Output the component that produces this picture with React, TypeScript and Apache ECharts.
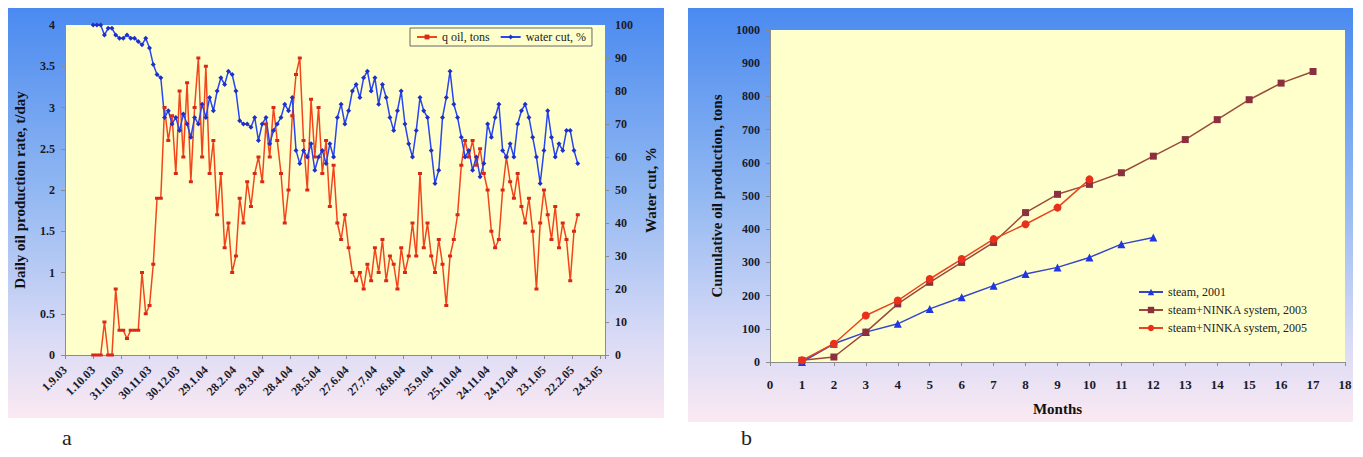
import React, { useEffect, useRef } from 'react';
import * as echarts from 'echarts';

const dateLabels = ['1.9.03', '1.10.03', '31.10.03', '30.11.03', '30.12.03', '29.1.04', '28.2.04', '29.3.04', '28.4.04', '28.5.04', '27.6.04', '27.7.04', '26.8.04', '25.9.04', '25.10.04', '24.11.04', '24.12.04', '23.1.05', '22.2.05', '24.3.05'];
const firstDay = 30;
const dayStep = 4;

const oilRate = [
  0, 0, 0, 0.4, 0, 0, 0.8, 0.3, 0.3, 0.2,
  0.3, 0.3, 0.3, 1.0, 0.5, 0.6, 1.1, 1.9, 1.9, 3.0,
  2.6, 2.9, 2.2, 3.2, 2.4, 3.3, 2.1, 3.0, 3.6, 2.4,
  3.5, 2.2, 2.6, 1.7, 2.2, 1.3, 1.6, 1.0, 1.2, 1.9,
  1.6, 2.1, 1.8, 2.2, 2.4, 2.1, 2.8, 2.4, 3.0, 2.6,
  2.2, 1.6, 2.0, 2.9, 3.4, 3.6, 2.6, 2.0, 3.1, 2.4,
  3.0, 2.2, 2.6, 1.8, 2.3, 1.6, 1.4, 1.7, 1.3, 1.0,
  0.9, 1.0, 0.8, 1.1, 0.9, 1.3, 1.0, 1.4, 0.9, 1.2,
  1.1, 0.8, 1.3, 1.0, 1.2, 1.6, 1.2, 2.2, 1.3, 1.6,
  1.2, 1.0, 1.4, 1.1, 0.6, 1.2, 1.4, 1.7, 2.3, 2.6,
  2.4, 2.6, 2.3, 2.5, 2.2, 2.0, 1.5, 1.3, 1.4, 2.0,
  2.4, 2.1, 1.9, 2.2, 1.8, 1.6, 1.9, 1.5, 0.8, 1.6,
  2.0, 1.7, 1.4, 1.8, 1.3, 1.6, 1.4, 0.9, 1.5, 1.7,
];

const waterCut = [
  100, 100, 100, 97, 99, 99, 97, 96, 96, 97,
  96, 96, 95, 94, 96, 93, 88, 85, 84, 72,
  74, 70, 72, 68, 73, 70, 66, 72, 70, 76,
  72, 78, 74, 80, 84, 82, 86, 85, 80, 71,
  70, 70, 69, 72, 65, 70, 72, 64, 68, 70,
  72, 76, 74, 78, 62, 58, 62, 60, 64, 56,
  60, 62, 58, 64, 60, 72, 76, 70, 74, 80,
  82, 78, 84, 86, 80, 84, 76, 82, 78, 72,
  68, 74, 80, 70, 64, 60, 68, 78, 74, 72,
  62, 52, 56, 72, 78, 86, 76, 72, 66, 60,
  62, 56, 60, 54, 58, 70, 66, 72, 76, 62,
  60, 64, 60, 70, 74, 76, 72, 66, 60, 52,
  62, 74, 66, 60, 64, 62, 68, 68, 62, 58,
];

const months = [1, 2, 3, 4, 5, 6, 7, 8, 9, 10, 11, 12, 13, 14, 15, 16, 17];
const steam2001 = [0, 55, 90, 115, 160, 195, 230, 265, 285, 315, 355, 375];
const ninka2003 = [5, 15, 90, 175, 240, 300, 360, 450, 505, 535, 570, 620, 670, 730, 790, 840, 875];
const ninka2005 = [5, 55, 140, 185, 250, 310, 370, 415, 465, 550];

const SERIF = "'Liberation Serif', 'Times New Roman', serif";

const panelFill = () =>
  new echarts.graphic.LinearGradient(0, 0, 0, 1, [
    { offset: 0, color: '#4A8AF0' },
    { offset: 0.45, color: '#92B8F2' },
    { offset: 0.8, color: '#D8DAF6' },
    { offset: 1, color: '#FBE9F2' },
  ]);

export default function App() {
  const ref = useRef<HTMLDivElement>(null);
  useEffect(() => {
    if (!ref.current) return;
    const chart = echarts.init(ref.current, undefined, { renderer: 'svg' });
    const dayOf = (i: number) => firstDay + i * dayStep;
    const tickLabel = { fontFamily: SERIF, fontWeight: 'bold' as const, color: '#1a1a2a' };
    const axisLine = { show: true, lineStyle: { color: '#8c8c8c', width: 1 } };
    const axisTick = { show: true, length: 4, lineStyle: { color: '#8c8c8c' } };
    const nameStyle = { fontFamily: SERIF, fontWeight: 'bold' as const, fontSize: 15, color: '#111' };
    const plain = (v: number) => String(v);

    chart.setOption({
      animation: false,
      backgroundColor: '#ffffff',
      graphic: [
        { type: 'rect', z: -10, shape: { x: 8, y: 8, width: 656, height: 410 }, style: { fill: panelFill() }, silent: true },
        { type: 'rect', z: -10, shape: { x: 688, y: 8, width: 665, height: 414 }, style: { fill: panelFill() }, silent: true },
        { type: 'text', x: 62, y: 426, style: { text: 'a', font: `22px ${SERIF}`, fill: '#222' } },
        { type: 'text', x: 741, y: 426, style: { text: 'b', font: `22px ${SERIF}`, fill: '#222' } },
      ],
      grid: [
        { left: 65, top: 25, width: 540, height: 330, show: true, backgroundColor: '#FFFFCC', borderWidth: 0 },
        { left: 770, top: 30, width: 575, height: 332, show: true, backgroundColor: '#FFFFCC', borderWidth: 0 },
      ],
      legend: [
        {
          data: ['q oil, tons', 'water cut, %'],
          left: 410, top: 28, orient: 'horizontal',
          itemWidth: 20, itemHeight: 6, itemGap: 10,
          padding: [3, 6], borderColor: '#666', borderWidth: 1, backgroundColor: '#FFFFCC',
          textStyle: { fontFamily: SERIF, fontSize: 12, color: '#222' },
        },
        {
          data: ['steam, 2001', 'steam+NINKA system, 2003', 'steam+NINKA system, 2005'],
          left: 1133, top: 281, orient: 'vertical',
          itemWidth: 24, itemHeight: 8, itemGap: 6,
          textStyle: { fontFamily: SERIF, fontSize: 12, color: '#222' },
        },
      ],
      xAxis: [
        {
          type: 'value', gridIndex: 0, min: 0, max: 575, interval: 30,
          axisLine, axisTick, splitLine: { show: false },
          axisLabel: {
            ...tickLabel, fontSize: 12, rotate: 45, margin: 13,
            formatter: (v: number) => (v % 30 === 0 && dateLabels[v / 30] ? dateLabels[v / 30] : ''),
          },
        },
        {
          type: 'value', gridIndex: 1, min: 0, max: 18, interval: 1,
          axisLine, axisTick, splitLine: { show: false },
          axisLabel: { ...tickLabel, fontSize: 13, margin: 16, formatter: plain },
          name: 'Months', nameLocation: 'middle', nameGap: 39, nameTextStyle: nameStyle,
        },
      ],
      yAxis: [
        {
          type: 'value', gridIndex: 0, min: 0, max: 4, interval: 0.5, position: 'left',
          axisLine, axisTick, splitLine: { show: false },
          axisLabel: { ...tickLabel, fontSize: 12, margin: 10, formatter: plain },
          name: 'Daily oil production rate, t/day', nameLocation: 'middle', nameGap: 38, nameRotate: 90,
          nameTextStyle: nameStyle,
        },
        {
          type: 'value', gridIndex: 0, min: 0, max: 100, interval: 10, position: 'right',
          axisLine, axisTick, splitLine: { show: false },
          axisLabel: { ...tickLabel, fontSize: 12, margin: 10, formatter: plain },
          name: 'Water cut, %', nameLocation: 'middle', nameGap: 38, nameRotate: 90,
          nameTextStyle: nameStyle,
        },
        {
          type: 'value', gridIndex: 1, min: 0, max: 1000, interval: 100, position: 'left',
          axisLine, axisTick, splitLine: { show: false },
          axisLabel: { ...tickLabel, fontSize: 12, margin: 10, formatter: plain },
          name: 'Cumulative oil production, tons', nameLocation: 'middle', nameGap: 46, nameRotate: 90,
          nameTextStyle: nameStyle,
        },
      ],
      series: [
        {
          name: 'q oil, tons', type: 'line', xAxisIndex: 0, yAxisIndex: 0,
          data: oilRate.map((v, i) => [dayOf(i), v]),
          symbol: 'rect', symbolSize: [4, 3],
          lineStyle: { color: '#F2451C', width: 1.5 },
          itemStyle: { color: '#D8281A' },
        },
        {
          name: 'water cut, %', type: 'line', xAxisIndex: 0, yAxisIndex: 1,
          data: waterCut.map((v, i) => [dayOf(i), v]),
          symbol: 'diamond', symbolSize: 5,
          lineStyle: { color: '#2746F0', width: 1.5 },
          itemStyle: { color: '#1F30C8' },
        },
        {
          name: 'steam, 2001', type: 'line', xAxisIndex: 1, yAxisIndex: 2,
          data: steam2001.map((v, i) => [months[i], v]),
          symbol: 'triangle', symbolSize: 8,
          lineStyle: { color: '#3445C8', width: 1.5 },
          itemStyle: { color: '#1F36E0' },
        },
        {
          name: 'steam+NINKA system, 2003', type: 'line', xAxisIndex: 1, yAxisIndex: 2,
          data: ninka2003.map((v, i) => [months[i], v]),
          symbol: 'rect', symbolSize: 7,
          lineStyle: { color: '#9A4A3A', width: 1.5 },
          itemStyle: { color: '#8C3040' },
        },
        {
          name: 'steam+NINKA system, 2005', type: 'line', xAxisIndex: 1, yAxisIndex: 2,
          data: ninka2005.map((v, i) => [months[i], v]),
          symbol: 'circle', symbolSize: 8,
          lineStyle: { color: '#E8441E', width: 1.5 },
          itemStyle: { color: '#E8301A' },
        },
      ],
    });
    return () => chart.dispose();
  }, []);
  return <div ref={ref} style={{ position: 'fixed', left: 0, top: 0, width: 1363, height: 457 }} />;
}
